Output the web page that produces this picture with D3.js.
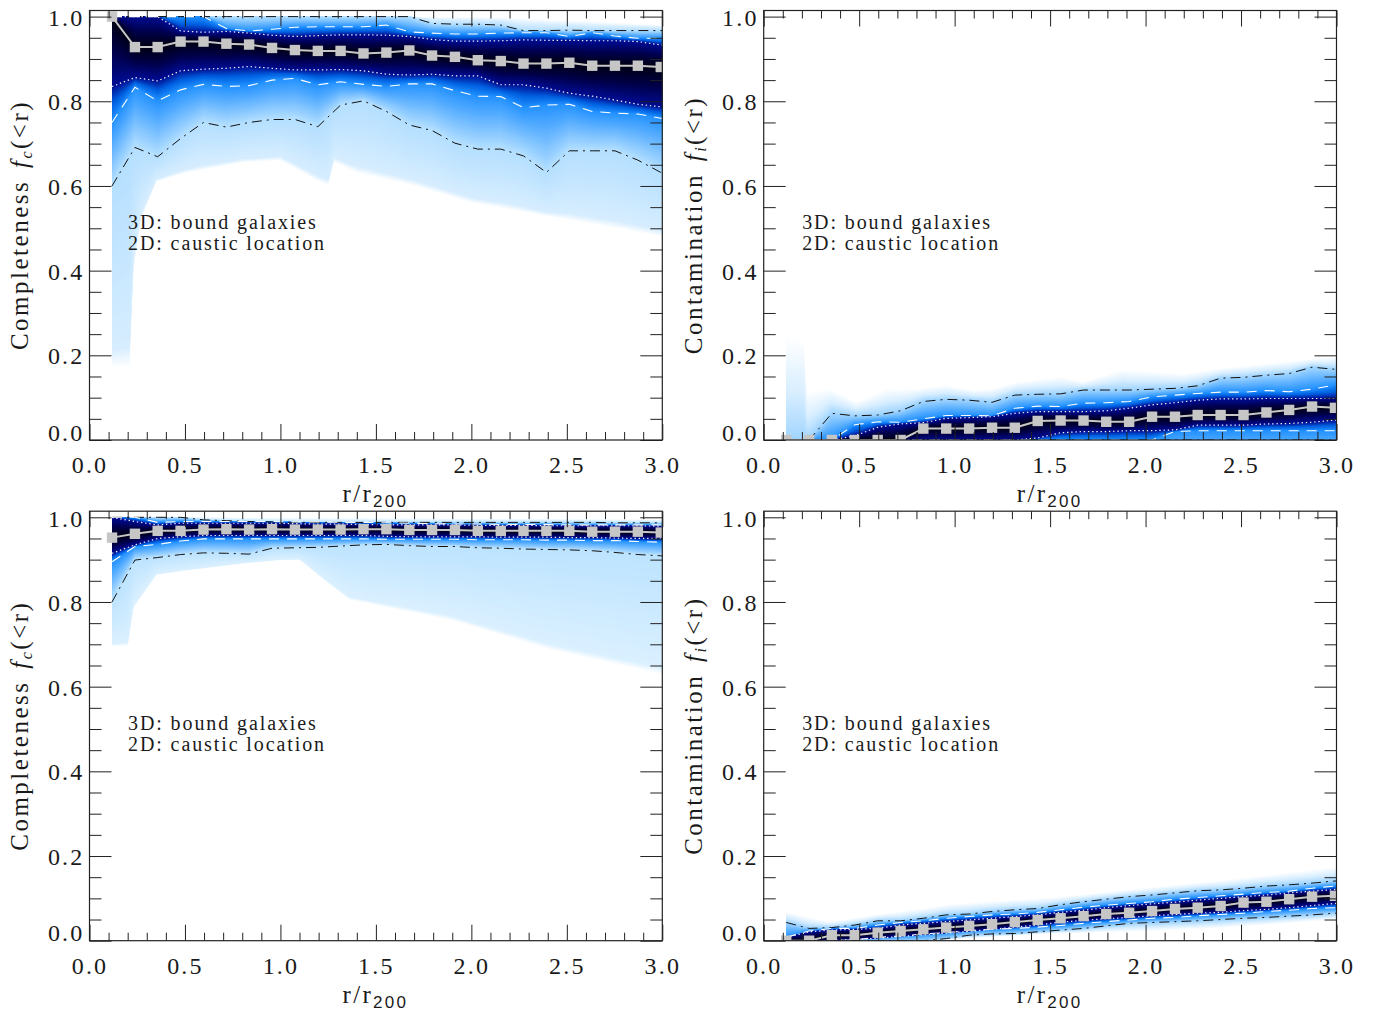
<!DOCTYPE html>
<html><head><meta charset="utf-8">
<script src="https://cdnjs.cloudflare.com/ajax/libs/d3/7.8.5/d3.min.js"></script>
<style>
html,body{margin:0;padding:0;background:#fff}
svg{display:block}
text{font-family:"Liberation Serif",serif;fill:#1a1a1a}
.tick text{font-size:24px;letter-spacing:2.2px}
</style></head><body><div id="c"></div>
<script>
const rValues=[0.118,0.238,0.357,0.477,0.597,0.717,0.836,0.956,1.076,1.196,1.315,1.435,1.555,1.675,1.794,1.914,2.034,2.154,2.273,2.393,2.513,2.633,2.752,2.872,2.992];

// Completeness, caustic location (top left)
const tlMed=[1,.928,.928,.941,.941,.936,.934,.926,.921,.919,.919,.913,.915,.920,.908,.905,.897,.895,.889,.889,.891,.884,.884,.884,.881];
const tlDotHi=[1,1,1,.966,.963,.965,.961,.956,.953,.955,.957,.957,.956,.953,.946,.942,.942,.943,.945,.944,.944,.943,.943,.941,.933];
const tlDotLo=[.835,.856,.848,.872,.876,.878,.882,.878,.874,.874,.875,.872,.864,.862,.864,.860,.860,.839,.839,.831,.819,.812,.803,.793,.787];
const tlDashHi=[1,1,1,1,1,.972,.966,.970,.975,.976,.976,.976,.980,.964,.961,.959,.959,.961,.962,.962,.953,.962,.954,.949,.949];
const tlDashLo=[.750,.833,.801,.827,.840,.835,.837,.850,.854,.839,.846,.840,.835,.841,.841,.825,.812,.811,.785,.791,.793,.776,.772,.770,.760];
const tlChainHi=[1,1,1,1,1,1,1,1,1,1,1,1,1,1,.984,.982,.982,.980,.967,.967,.968,.967,.967,.967,.967];
const tlChainLo=[.600,.691,.669,.712,.750,.739,.750,.757,.757,.740,.791,.801,.776,.744,.731,.701,.687,.687,.671,.632,.683,.683,.683,.661,.632];
const tlEdgeLoR=[.118,.21,.23,.27,.35,.5,.8,1.0,1.2,1.25,1.28,1.4,1.7,2.0,2.5,3.0];
const tlEdgeLoV=[.17,.17,.40,.52,.61,.63,.655,.66,.61,.60,.655,.63,.60,.56,.52,.48];
const tlEdgeHiR=[.118,1.8,2.2,2.6,3.0];
const tlEdgeHiV=[1,1,.998,.99,.98];

// Contamination, caustic location (top right)
const trMed=[0,0,0,0,0,0,.027,.027,.027,.029,.029,.045,.046,.046,.043,.043,.055,.055,.059,.059,.059,.065,.071,.079,.076];
const trDotHi=[0,0,0,.01,.030,.038,.041,.051,.053,.055,.063,.067,.067,.067,.069,.075,.083,.088,.094,.097,.097,.098,.098,.098,.098];
const trDotLo=[0,0,0,0,0,0,0,0,0,0,0,.005,.017,.020,.020,.022,.022,.024,.035,.035,.035,.038,.039,.042,.047];
const trDashHi=[0,0,0,.036,.043,.042,.050,.058,.058,.057,.075,.080,.079,.087,.088,.091,.102,.106,.110,.113,.113,.117,.114,.120,.130];
const trDashLo=[0,0,0,0,0,0,0,0,0,0,0,0,0,0,0,0,0,.020,.022,.022,.022,.022,.022,.022,.022];
const trChainHi=[0,0,.063,.057,.059,.069,.091,.096,.094,.089,.106,.108,.109,.118,.118,.118,.120,.122,.128,.146,.148,.153,.157,.172,.167];
const trChainLo=[0,0,0,0,0,0,0,0,0,0,0,0,0,0,0,0,-.01,-.05,-.05,-.05,-.05,-.05,-.05,-.05,-.05];
const trEdgeLoR=[.118,3.0];
const trEdgeLoV=[-.07,-.07];
const trEdgeHiR=[.118,.21,.226,.348,.488,.645,.802,.96,1.10,1.2,1.326,1.553,1.674,1.885,2.2,2.375,2.72,2.98];
const trEdgeHiV=[.248,.24,.118,.122,.09,.122,.122,.13,.118,.122,.138,.15,.138,.167,.157,.169,.185,.197];

// Completeness, bound galaxies panel (bottom left)
const blMed=[.952,.961,.968,.968,.971,.972,.971,.972,.971,.971,.971,.972,.972,.970,.970,.970,.968,.968,.968,.968,.968,.966,.966,.966,.964];
const blDotHi=[1,.990,.982,.986,.986,.986,.986,.986,.985,.984,.984,.983,.982,.982,.982,.982,.981,.981,.981,.980,.980,.980,.980,.980,.979];
const blDotLo=[.915,.935,.950,.954,.957,.957,.957,.957,.957,.957,.957,.957,.955,.954,.954,.954,.954,.953,.953,.953,.952,.952,.951,.950,.950];
const blDashHi=[1,1,.988,.990,.990,.990,.990,.990,.989,.989,.988,.988,.987,.986,.985,.984,.984,.983,.983,.983,.982,.982,.982,.982,.982];
const blDashLo=[.895,.931,.936,.944,.949,.949,.949,.949,.949,.949,.949,.949,.948,.948,.948,.948,.947,.947,.947,.946,.946,.945,.945,.943,.941];
const blChainHi=[1,1,1,1,.994,.992,.990,.989,.988,.988,.988,.988,.988,.988,.988,.988,.988,.988,.988,.988,.988,.988,.987,.987,.987];
const blChainLo=[.800,.899,.905,.912,.916,.915,.913,.927,.928,.929,.932,.935,.936,.933,.931,.931,.928,.927,.925,.924,.923,.921,.917,.912,.909];
const blEdgeLoR=[.118,.2,.23,.35,.474,.8,1.0,1.10,1.26,1.36,1.89,2.41,3.0];
const blEdgeLoV=[.695,.695,.785,.864,.872,.891,.899,.90,.84,.805,.757,.687,.628];
const blEdgeHiR=[.118,.6,1.5,3.0];
const blEdgeHiV=[1,1,.998,.995];

// Contamination, bound galaxies panel (bottom right)
const brMed=[0,0,.013,.013,.019,.023,.027,.031,.035,.039,.044,.049,.053,.058,.063,.066,.070,.075,.078,.082,.090,.092,.098,.104,.106];
const brDotHi=[.008,.021,.025,.027,.029,.037,.041,.045,.049,.053,.057,.061,.067,.072,.078,.083,.087,.091,.096,.100,.104,.108,.113,.117,.121];
const brDotLo=[0,0,0,.003,.006,.010,.014,.018,.022,.027,.032,.037,.044,.048,.052,.055,.059,.062,.065,.067,.071,.074,.078,.083,.088];
const brDashHi=[.008,.023,.029,.029,.037,.043,.047,.053,.057,.061,.063,.067,.073,.079,.084,.088,.092,.098,.102,.106,.110,.114,.117,.124,.129];
const brDashLo=[0,0,0,.002,.008,.011,.016,.019,.024,.027,.029,.032,.036,.041,.045,.049,.053,.055,.059,.062,.065,.069,.072,.076,.078];
const brChainHi=[.043,.029,.031,.037,.047,.047,.053,.061,.063,.069,.073,.076,.085,.092,.098,.104,.108,.113,.118,.120,.124,.129,.132,.136,.141];
const brChainLo=[0,0,0,0,0,0,0,.005,.013,.016,.017,.021,.025,.029,.035,.041,.043,.045,.047,.050,.053,.055,.058,.061,.065];
const brEdgeLoR=[.118,.8,1.0,1.5,2.0,2.4,3.0];
const brEdgeLoV=[0,0,.004,.017,.022,.03,.05];
const brEdgeHiR=[.118,.34,1.0,1.55,2.4,3.0];
const brEdgeHiV=[.069,.045,.088,.104,.143,.175];

const yTicks=[0,.2,.4,.6,.8,1];
const xTicks=[0,.5,1,1.5,2,2.5,3];
const yMinor=[.05,.1,.15,.25,.3,.35,.45,.5,.55,.65,.7,.75,.85,.9,.95];
const xMinor=[.1,.2,.3,.4,.6,.7,.8,.9,1.1,1.2,1.3,1.4,1.6,1.7,1.8,1.9,2.1,2.2,2.3,2.4,2.6,2.7,2.8,2.9];
const noteLines=["3D: bound galaxies","2D: caustic location"];
const levelPos=[-1,0,1,2,2.5,3,3.5,4];
const levelColTL=["#ffffff","#d6edff","#b4dfff","#2090ff","#0060e0","#000c90","#000048","#000010"];
const levelColTR=["#ffffff","#d6edff","#9fd4ff","#2090ff","#0060e0","#000c90","#000048","#000010"];
const levelColBL=["#ffffff","#daf0ff","#bce3ff","#2090ff","#0060e0","#000c90","#000048","#000010"];

const W=1380,H=1011;
const svg=d3.select("#c").append("svg").attr("width",W).attr("height",H);
const defs=svg.append("defs");

const panels=[
 {id:"tl",x0:89.5,y0:440,softLo:.1,softHi:.5,cols:levelColTL,name:"Completeness ",sym:"c",med:tlMed,dh:tlDotHi,dl:tlDotLo,ah:tlDashHi,al:tlDashLo,ch:tlChainHi,cl:tlChainLo,elr:tlEdgeLoR,elv:tlEdgeLoV,ehr:tlEdgeHiR,ehv:tlEdgeHiV},
 {id:"tr",x0:763.7,y0:440,softLo:.5,softHi:.55,cols:levelColTR,name:"Contamination ",sym:"i",med:trMed,dh:trDotHi,dl:trDotLo,ah:trDashHi,al:trDashLo,ch:trChainHi,cl:trChainLo,elr:trEdgeLoR,elv:trEdgeLoV,ehr:trEdgeHiR,ehv:trEdgeHiV},
 {id:"bl",x0:89.5,y0:940.7,softLo:.06,softHi:.5,cols:levelColBL,name:"Completeness ",sym:"c",med:blMed,dh:blDotHi,dl:blDotLo,ah:blDashHi,al:blDashLo,ch:blChainHi,cl:blChainLo,elr:blEdgeLoR,elv:blEdgeLoV,ehr:blEdgeHiR,ehv:blEdgeHiV},
 {id:"br",x0:763.7,y0:940.7,softLo:.5,softHi:.55,cols:levelColTR,name:"Contamination ",sym:"i",med:brMed,dh:brDotHi,dl:brDotLo,ah:brDashHi,al:brDashLo,ch:brChainHi,cl:brChainLo,elr:brEdgeLoR,elv:brEdgeLoV,ehr:brEdgeHiR,ehv:brEdgeHiV}
];

const lineR=rValues.concat([3]);
const curveOf=(xs,vs)=>d3.scaleLinear().domain(xs).range(vs).clamp(true);
const lineCurve=a=>curveOf(lineR,a.concat([a[a.length-1]]));

panels.forEach(p=>{
  const pw=572.8, ph=429.5;
  const x=d3.scaleLinear().domain([0,3]).range([p.x0,p.x0+pw]);
  const y=d3.scaleLinear().domain([0,ph/423.4]).range([p.y0,p.y0-ph]);
  const colour=d3.scaleLinear().domain(levelPos).range(p.cols).interpolate(d3.interpolateRgb);
  const g=svg.append("g");
  defs.append("clipPath").attr("id","clip-"+p.id).append("rect")
    .attr("x",p.x0).attr("y",p.y0-ph).attr("width",pw).attr("height",ph);
  const plot=g.append("g").attr("clip-path",`url(#clip-${p.id})`);

  // density shading: nested bands between the percentile curves
  const grid=Array.from(new Set(lineR.concat(p.elr).concat(p.ehr))).filter(d=>d>=rValues[0]).sort(d3.ascending);
  const cMed=lineCurve(p.med),
        lo=[curveOf(p.elr,p.elv),null,lineCurve(p.cl),lineCurve(p.al),lineCurve(p.dl),cMed],
        hi=[curveOf(p.ehr,p.ehv),null,lineCurve(p.ch),lineCurve(p.ah),lineCurve(p.dh),cMed];
  lo[1]=r=>lo[0](r)+p.softLo*(lo[2](r)-lo[0](r));
  hi[1]=r=>hi[0](r)+p.softHi*(hi[2](r)-hi[0](r));
  const at=(set,L,r)=>{const t=L+1,i=Math.min(Math.floor(t),4),f=t-i;return set[i](r)*(1-f)+set[i+1](r)*f;};
  const levels=d3.range(-1,4.001,.04);
  levels.forEach(L=>{
    const area=d3.area().x(r=>x(r)).y0(r=>y(at(lo,L,r))).y1(r=>y(at(hi,L,r)));
    plot.append("path").attr("d",area(grid)).attr("fill",colour(L)).attr("stroke","none");
  });

  // percentile lines
  const line=d3.line().x(d=>x(d[0])).y(d=>y(Math.max(0,d[1])));
  const pairs=a=>lineR.map((r,i)=>[r,i<a.length?a[i]:a[a.length-1]]);
  const styles=[[p.cl,"#111","10 5 2 5",1],[p.ch,"#111","10 5 2 5",1],
    [p.al,"#fff","10 8",1.1],[p.ah,"#fff","10 8",1.1],
    [p.dl,"#f2f6ff","1.4 2.8",1.2],[p.dh,"#f2f6ff","1.4 2.8",1.2]];
  styles.forEach(s=>plot.append("path").attr("d",line(pairs(s[0]))).attr("fill","none")
    .attr("stroke",s[1]).attr("stroke-dasharray",s[2]).attr("stroke-width",s[3]));
  plot.append("path").attr("d",line(rValues.map((r,i)=>[r,p.med[i]]))).attr("fill","none")
    .attr("stroke","#c6c6c6").attr("stroke-width",2);
  plot.selectAll("rect.m").data(rValues).join("rect").attr("class","m")
    .attr("x",r=>x(r)-5.2).attr("width",10.4).attr("height",10.4)
    .attr("y",(r,i)=>y(p.med[i])-5.2).attr("fill","#c6c6c6");

  // axes
  const style=s=>{s.select(".domain").remove();s.selectAll("line").attr("stroke","#222").attr("stroke-width",1);};
  const bot=`translate(0,${p.y0})`, top=`translate(0,${p.y0-ph})`, lef=`translate(${p.x0},0)`, rig=`translate(${p.x0+pw},0)`;
  g.append("g").attr("transform",bot).call(d3.axisBottom(x).tickValues(xMinor).tickSize(-8).tickFormat("")).call(style);
  g.append("g").attr("transform",top).call(d3.axisTop(x).tickValues(xMinor).tickSize(-8).tickFormat("")).call(style);
  g.append("g").attr("transform",top).call(d3.axisTop(x).tickValues(xTicks).tickSize(-16).tickFormat("")).call(style);
  g.append("g").attr("transform",lef).call(d3.axisLeft(y).tickValues(yMinor).tickSize(-12).tickFormat("")).call(style);
  g.append("g").attr("transform",rig).call(d3.axisRight(y).tickValues(yMinor).tickSize(-12).tickFormat("")).call(style);
  g.append("g").attr("transform",rig).call(d3.axisRight(y).tickValues(yTicks).tickSize(-22).tickFormat("")).call(style);
  const ax=g.append("g").attr("transform",bot).call(d3.axisBottom(x).tickValues(xTicks).tickSize(-16).tickPadding(16).tickFormat(d3.format(".1f"))).call(style);
  ax.selectAll("text").attr("text-anchor","middle").attr("fill","#1a1a1a");
  const ay=g.append("g").attr("transform",lef).call(d3.axisLeft(y).tickValues(yTicks).tickSize(-22).tickPadding(5).tickFormat(d3.format(".1f"))).call(style);
  ay.selectAll("text").attr("fill","#1a1a1a").attr("dy","0.35em");
  ay.selectAll(".tick").filter(d=>d===0).select("text").attr("dy","0px");
  ay.selectAll(".tick").filter(d=>d===1).select("text").attr("dy","0.38em");

  g.append("rect").attr("x",p.x0).attr("y",p.y0-ph).attr("width",pw).attr("height",ph)
    .attr("fill","none").attr("stroke","#222").attr("stroke-width",1.2);

  // note
  noteLines.forEach((t,i)=>g.append("text").attr("x",p.x0+38.5).attr("y",p.y0-211+i*21)
    .attr("font-size",20).attr("letter-spacing",1.9).text(t));

  // x label
  const xl=g.append("text").attr("x",p.x0+286).attr("y",p.y0+62).attr("text-anchor","middle")
    .attr("font-size",25).attr("letter-spacing",2.3);
  xl.append("tspan").text("r/r");
  xl.append("tspan").attr("dy",5).attr("font-size",17).attr("style","font-family:'Liberation Sans'").text("200");

  // y label
  const yl=g.append("text").attr("transform",`translate(${p.x0-62},${p.y0-215}) rotate(-90)`)
    .attr("text-anchor","middle").attr("font-size",25).attr("letter-spacing",2.5);
  yl.append("tspan").text(p.name);
  yl.append("tspan").attr("font-style","italic").attr("dx",3).text("f");
  yl.append("tspan").attr("font-style","italic").attr("font-size",16).attr("dy",4).text(p.sym);
  yl.append("tspan").attr("dy",-4).text("(<r)");
});
</script></body></html>
